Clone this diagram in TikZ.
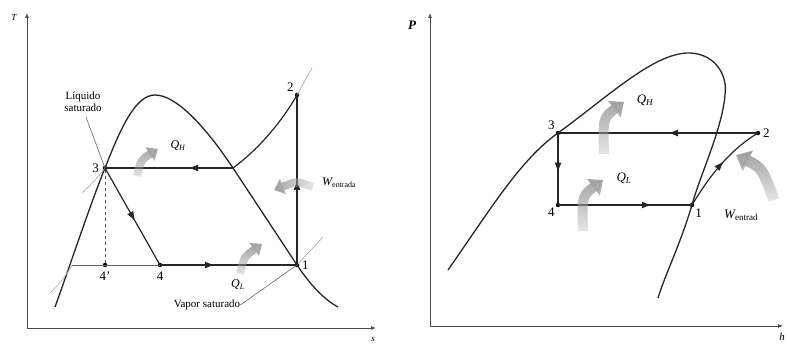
\documentclass[tikz,border=0pt]{standalone}
\usepackage{fontspec}
\setmainfont{Liberation Serif}
\usetikzlibrary{arrows.meta, positioning, calc, decorations.markings, fadings}
\tikzfading[name=fadeup, bottom color=transparent!80, top color=transparent!0]
\tikzfading[name=fadeleft, right color=transparent!80, left color=transparent!0]
\tikzset{
  dome/.style={line width=1.3pt, black!85},
  cyc/.style={line width=1.2pt, black!85},
  isobar/.style={line width=0.6pt, gray!70},
  leader/.style={line width=0.6pt, black!60},
  axis/.style={line width=0.8pt, black!70, -{Latex[length=5pt,width=4pt]}},
  dot/.style={circle, fill=black, inner sep=0pt, minimum size=4.5pt},
  num/.style={font=\fontsize{13}{13}\selectfont, inner sep=1.5pt},
  lbl/.style={font=\fontsize{11}{12}\selectfont, align=center, inner sep=0pt},
  heat/.style={line width=#1, gray!75, -{Triangle[length=1.2*#1,width=2*#1]}},
  heat/.default=8pt,
  midarrow/.style={postaction={decorate}, decoration={markings,
    mark=at position #1 with {\arrow{Latex[length=10pt,width=7pt]}}}},
  midarrow/.default=0.5,
}
\newcommand{\Qsub}[1]{{\itshape Q}\textsubscript{\itshape #1}}
\newcommand{\Wsub}[1]{{\itshape W}\textsubscript{#1}}

\begin{document}
\begin{tikzpicture}[x=1pt, y=1pt]
  \useasboundingbox (0,0) rectangle (787,344);

  % T-s diagram
  \coordinate (ts0) at (27,16);
  \coordinate (tsT) at (27,331);
  \coordinate (tss) at (376,16);
  \draw[axis] (ts0) -- (tsT);
  \draw[axis] (ts0) -- (tss);
  \node[lbl, font=\fontsize{9}{9}\selectfont\itshape] (lT) at (14,326) {T};
  \node[lbl, font=\fontsize{9}{9}\selectfont\itshape] (ls) at (373,5) {s};

  \node[dot] (t1) at (297,79) {};
  \node[dot] (t2) at (297,249) {};
  \node[dot] (t3) at (105,176) {};
  \node[dot] (t4) at (160,79) {};
  \node[dot] (t4p) at (105,79) {};
  \coordinate (tc) at (233,176);
  \coordinate (tf) at (72,79);

  % saturation dome
  \draw[dome] (55,37) .. controls (72,84) and (90,139) .. (t3.center)
    .. controls (120,214) and (135,249) .. (155,249)
    .. controls (176,249) and (205,218) .. (tc)
    -- (t1.center) .. controls (311,58) and (325,44) .. (338,37);

  % isobars
  \draw[isobar] (t2.center) .. controls (302,258) and (307,267) .. (312,276);
  \draw[isobar] (t1.center) .. controls (306,89) and (315,98) .. (323,107);
  \draw[isobar] (82,151) .. controls (90,158) and (98,167) .. (t3.center);
  \draw[isobar] (50,51) .. controls (58,58) and (66,68) .. (tf);
  \draw[isobar, black!60] (tf) -- (t4.center);
  \draw[isobar, dashed, black!70] (t3) -- (t4p);

  % cycle
  \draw[cyc, midarrow=0.35] (tc) -- (t3.center);
  \draw[cyc] (tc) .. controls (255,192) and (280,219) .. (t2.center);
  \draw[cyc, midarrow=0.5] (t1.center) -- (t2.center);
  \draw[cyc, midarrow=0.55] (t3.center) -- (t4.center);
  \draw[cyc, midarrow=0.4] (t4.center) -- (t1.center);

  % labels
  \node[num, left=2pt of t3] (n3) {3};
  \node[num, above left=0pt and 0pt of t2] (n2) {2};
  \node[num, right=1pt of t1] (n1) {1};
  \node[num, below=3pt of t4p] (n4p) {4'};
  \node[num, below=3pt of t4] (n4) {4};
  \node[lbl] (liq) at (83,242) {Líquido\\saturado};
  \node[lbl] (vap) at (207,39) {Vapor saturado};
  \draw[leader] (86,227) -- (t3.center);
  \draw[leader] (vap.east) -- (t1.center);
  \node[lbl, font=\fontsize{12}{12}\selectfont] (qh1) at (178,198) {\Qsub{H}};
  \node[lbl, font=\fontsize{12}{12}\selectfont] (ql1) at (238,59) {\Qsub{L}};
  \node[lbl, font=\fontsize{12}{12}\selectfont, anchor=west] (w1) at (322,161) {\Wsub{entrada}};

  % heat and work
  \draw[heat, path fading=fadeup] (137,168) .. controls (141,184) .. (158,195);
  \draw[heat, path fading=fadeup] (240,70) .. controls (244,87) .. (262,100);
  \draw[heat, path fading=fadeleft] (313,157) .. controls (297,163) .. (274,154);

  % P-h diagram
  \coordinate (ph0) at (430,18);
  \coordinate (phP) at (430,331);
  \coordinate (phh) at (783,18);
  \draw[axis] (ph0) -- (phP);
  \draw[axis] (ph0) -- (phh);
  \node[lbl, font=\fontsize{13}{13}\selectfont\bfseries\itshape] (lP) at (412,319) {P};
  \node[lbl, font=\fontsize{11}{11}\selectfont\itshape] (lh) at (782,7) {h};

  \node[dot] (p1) at (692,139) {};
  \node[dot] (p2) at (758,211) {};
  \node[dot] (p3) at (558,211) {};
  \node[dot] (p4) at (558,139) {};

  \draw[dome] (448,74) .. controls (490,134) and (520,184) .. (p3.center)
    .. controls (610,249) and (655,292) .. (690,291)
    .. controls (715,290) and (728,269) .. (725,249)
    .. controls (722,214) and (700,169) .. (p1.center)
    .. controls (680,99) and (665,69) .. (658,46);

  \draw[cyc, midarrow=0.45] (p2.center) -- (p3.center);
  \draw[cyc, midarrow=0.55] (p3.center) -- (p4.center);
  \draw[cyc, midarrow=0.7] (p4.center) -- (p1.center);
  \draw[cyc, midarrow=0.55] (p1.center) .. controls (710,169) and (730,194) .. (p2.center);

  \node[num, above left=0pt and 0pt of p3] (m3) {3};
  \node[num, right=1pt of p2] (m2) {2};
  \node[num, below left=0pt and 0pt of p4] (m4) {4};
  \node[num, below right=0pt and 0pt of p1] (m1) {1};
  \node[lbl, font=\fontsize{13}{13}\selectfont] (qh2) at (645,244) {\Qsub{H}};
  \node[lbl, font=\fontsize{13}{13}\selectfont] (ql2) at (624,166) {\Qsub{L}};
  \node[lbl, font=\fontsize{13}{13}\selectfont, anchor=west] (w2) at (724,129) {\Wsub{entrad}};

  \draw[heat=10pt, path fading=fadeup] (604,190) .. controls (603,226) .. (624,242);
  \draw[heat=10pt, path fading=fadeup] (583,113) .. controls (582,148) .. (603,164);
  \draw[heat=11pt, path fading=fadeup] (774,144) .. controls (762,176) .. (736,189);
\end{tikzpicture}
\end{document}
